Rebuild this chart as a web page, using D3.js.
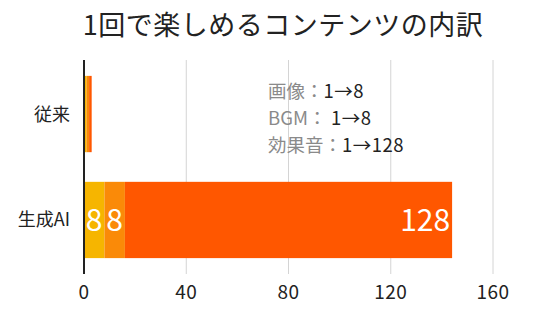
<!DOCTYPE html>
<html>
<head>
<meta charset="utf-8">
<script src="https://d3js.org/d3.v7.min.js"></script>
<style>
  body { margin: 0; background: #fff; }
  text { font-family: "Noto Sans CJK JP", sans-serif; }
</style>
</head>
<body>
<div id="chart"></div>
<script>
// data
const categories = ['従来', '生成AI'];
const seriesNames = ['画像', 'BGM', '効果音'];
const imageValues = [1, 8];
const bgmValues = [1, 8];
const seValues = [1, 128];
const xTicks = [0, 40, 80, 120, 160];
const noteLabels = ['画像：', 'BGM：', '効果音：'];
const noteValues = ['1→8', ' 1→8', '1→128'];

const colors = ['#F6B500', '#FA8A08', '#FF5700'];
const width = 536, height = 322;

const svg = d3.select('#chart').append('svg')
    .attr('width', width)
    .attr('height', height);

const x = d3.scaleLinear().domain([0, 160]).range([84, 493]);
const y = d3.scaleBand().domain(categories).range([60, 274])
    .paddingInner(0.28).paddingOuter(0.15);

// rows for the stack
const rows = categories.map((c, i) => ({
    cat: c, '画像': imageValues[i], 'BGM': bgmValues[i], '効果音': seValues[i]
}));
const stacked = d3.stack().keys(seriesNames)(rows);

// title
svg.append('text')
    .attr('x', 283).attr('y', 35)
    .attr('text-anchor', 'middle')
    .style('font-size', '27px')
    .style('letter-spacing', '0.5px')
    .style('fill', '#222')
    .text('1回で楽しめるコンテンツの内訳');

// gridlines
svg.append('g').selectAll('line')
    .data(xTicks.slice(1))
    .join('line')
    .attr('x1', d => x(d)).attr('x2', d => x(d))
    .attr('y1', 60).attr('y2', 274)
    .attr('stroke', '#d4d4d4').attr('stroke-width', 1);

// bars
stacked.forEach((s, k) => {
    svg.append('g').selectAll('rect')
        .data(s)
        .join('rect')
        .attr('x', d => x(d[0]))
        .attr('y', d => y(d.data.cat))
        .attr('width', d => x(d[1]) - x(d[0]))
        .attr('height', y.bandwidth())
        .attr('fill', colors[k]);
});

// value labels inside the 生成AI bar
stacked.forEach(s => {
    const d = s[1];
    svg.append('text')
        .attr('x', x(d[1]) - 2)
        .attr('y', y(d.data.cat) + y.bandwidth() / 2)
        .attr('dy', '0.36em')
        .attr('text-anchor', 'end')
        .style('font-size', '30px')
        .style('fill', '#fff')
        .text(d[1] - d[0]);
});

// axis line
svg.append('line')
    .attr('x1', x(0)).attr('x2', x(0))
    .attr('y1', 60).attr('y2', 274)
    .attr('stroke', '#222').attr('stroke-width', 2);

// x tick labels
svg.append('g').selectAll('text')
    .data(xTicks)
    .join('text')
    .attr('x', d => x(d))
    .attr('y', 292)
    .attr('dy', '0.36em')
    .attr('text-anchor', 'middle')
    .style('font-size', '19px')
    .style('letter-spacing', '0.5px')
    .style('fill', '#222')
    .text(d => d);

// category labels
svg.append('g').selectAll('text')
    .data(categories)
    .join('text')
    .attr('x', 70)
    .attr('y', d => y(d) + y.bandwidth() / 2)
    .attr('dy', '0.36em')
    .attr('text-anchor', 'end')
    .style('font-size', '18px')
    .style('fill', '#222')
    .text(d => d);

// note
const note = svg.append('g');
noteLabels.forEach((lab, i) => {
    const t = note.append('text')
        .attr('x', 268)
        .attr('y', 91 + i * 27)
        .attr('dy', '0.36em')
        .style('font-size', '18.5px')
        .attr('xml:space', 'preserve');
    t.append('tspan').style('fill', '#8a8a8a').text(lab);
    t.append('tspan').style('fill', '#222').style('letter-spacing', '0.5px').text(noteValues[i]);
});
</script>
</body>
</html>
